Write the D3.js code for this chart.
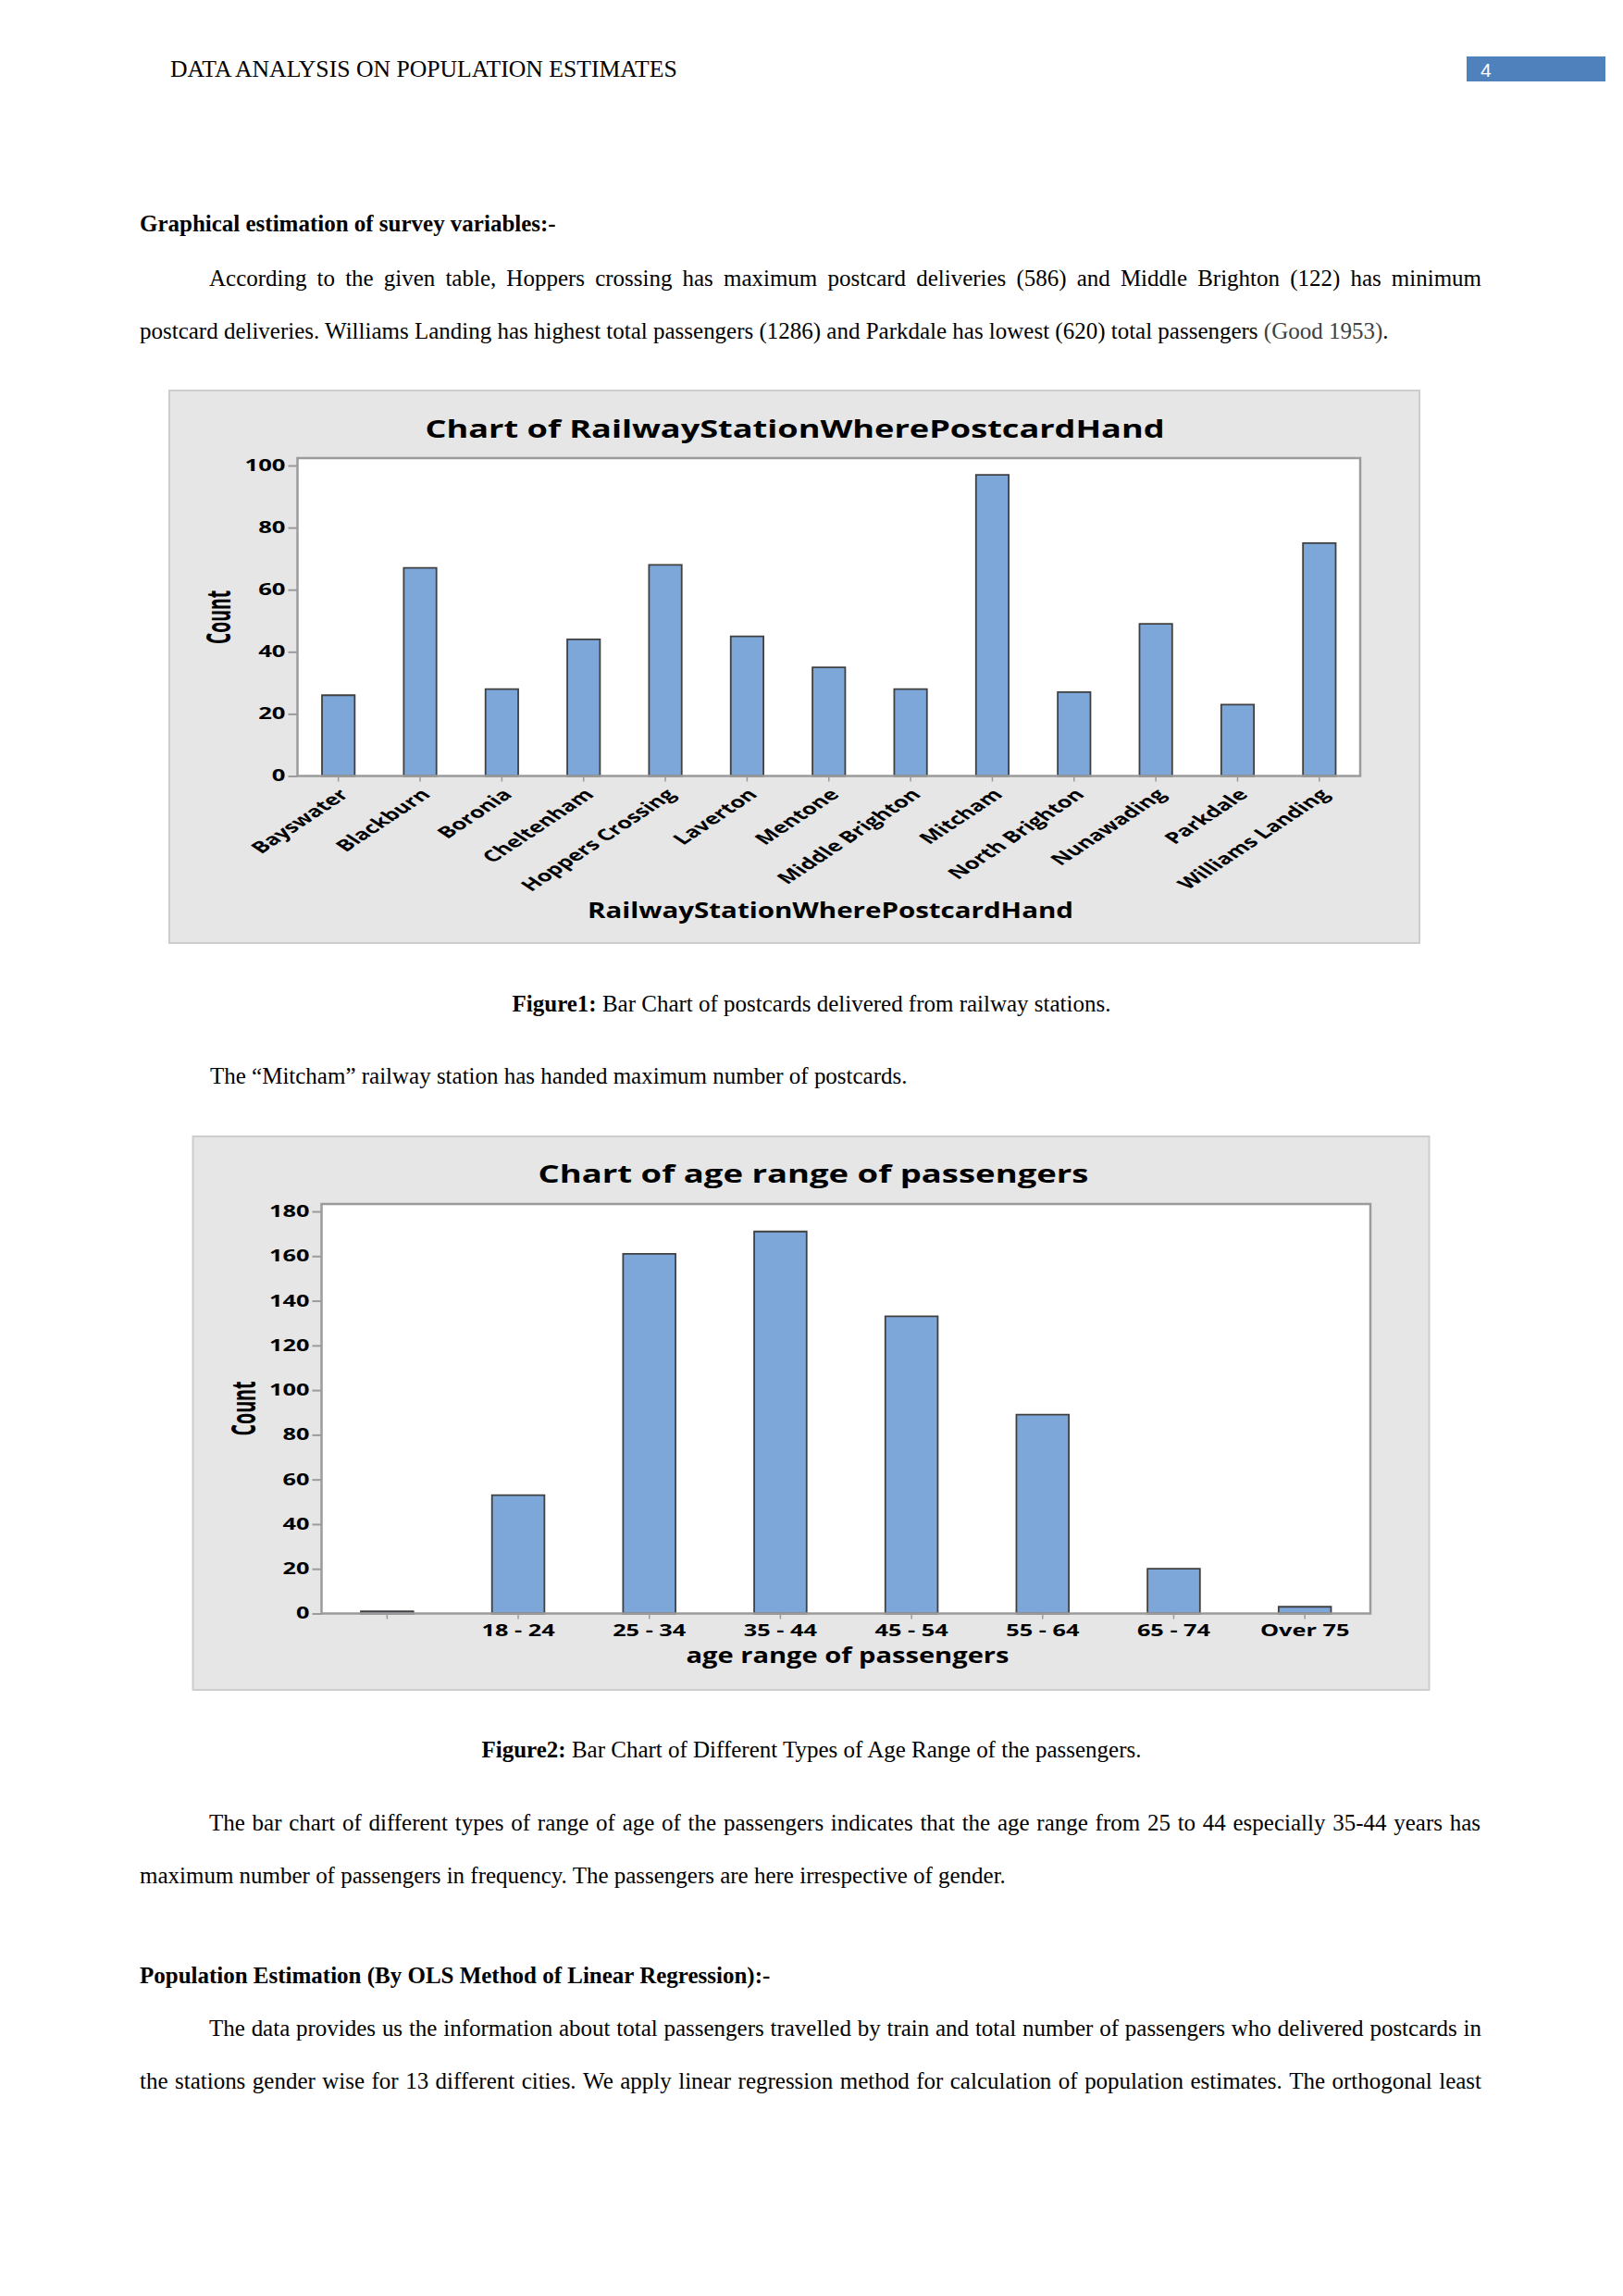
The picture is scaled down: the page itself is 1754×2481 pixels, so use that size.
<!DOCTYPE html>
<html><head><meta charset="utf-8">
<script src="https://cdn.jsdelivr.net/npm/d3@7"></script>
<style>body{margin:0;background:#fff} svg{display:block}</style>
</head><body>
<svg id="page" width="1754" height="2481"></svg>
<script>
// ---------- data ----------
const stations = ["Bayswater","Blackburn","Boronia","Cheltenham","Hoppers Crossing","Laverton","Mentone","Middle Brighton","Mitcham","North Brighton","Nunawading","Parkdale","Williams Landing"];
const stationCounts = [26,67,28,44,68,45,35,28,97,27,49,23,75];
const stationTicks = [0,20,40,60,80,100];
const ageRanges = ["","18 - 24","25 - 34","35 - 44","45 - 54","55 - 64","65 - 74","Over 75"];
const ageCounts = [1,53,161,171,133,89,20,3];
const ageTicks = [0,20,40,60,80,100,120,140,160,180];

// ---------- page ----------
const svg = d3.select("#page");
svg.append("rect").attr("width",1754).attr("height",2481).attr("fill","#fff");
const serif = "'Liberation Serif','Times New Roman',serif";
const sans = "'Open Sans','DejaVu Sans',sans-serif";

function measure(str, fs, bold) {
  const t = svg.append("text").attr("font-family",serif).attr("font-size",fs)
    .attr("font-weight",bold?700:400).text(str);
  const w = t.node().getComputedTextLength(); t.remove(); return w;
}
const calib = "postcard deliveries. Williams Landing has highest total passengers (1286) and Parkdale has lowest (620) total passengers (Good 1953).";
const FS = 24 * 1350 / measure(calib, 24, false);
const headerText = "DATA ANALYSIS ON POPULATION ESTIMATES";
const HFS = 24 * 548 / measure(headerText, 24, false);

function textLine(x, y, segs, opt = {}) {
  const fs = opt.fs || FS;
  const t = svg.append("text").attr("font-family",serif).attr("font-size",fs).attr("y",y).attr("fill","#000");
  if (opt.justify) {
    const words = [];
    segs.forEach(([s,b,c]) => s.split(" ").filter(w => w).forEach(w => words.push({w,b,c})));
    const widths = words.map(d => measure(d.w, fs, d.b));
    const gap = (opt.justify - x - d3.sum(widths)) / (words.length - 1);
    let cx = x;
    words.forEach((d,i) => {
      t.append("tspan").attr("x",cx).attr("font-weight",d.b?700:400).attr("fill",d.c||"#000").text(d.w);
      cx += widths[i] + gap;
    });
  } else {
    t.attr("x",x).attr("text-anchor",opt.anchor||"start");
    segs.forEach(([s,b,c]) => t.append("tspan").attr("font-weight",b?700:400).attr("fill",c||"#000").text(s));
  }
}

// header
textLine(184, 83, [[headerText]], {fs:HFS});
svg.append("rect").attr("x",1585).attr("y",61).attr("width",150).attr("height",27).attr("fill","#4f81bd");
svg.append("text").attr("x",1600).attr("y",83).attr("font-family","'Liberation Sans',Arial,sans-serif")
  .attr("font-size",21).attr("fill","#fff").text("4");

textLine(151, 250, [["Graphical estimation of survey variables:-", true]]);
textLine(226, 309, [["According to the given table, Hoppers crossing has maximum postcard deliveries (586) and Middle Brighton (122) has minimum"]], {justify:1601});
textLine(151, 366, [["postcard deliveries. Williams Landing has highest total passengers (1286) and Parkdale has lowest (620) total passengers "],["(Good 1953)",false,"#404040"],["."]]);
textLine(877, 1093, [["Figure1:",true],[" Bar Chart of postcards delivered from railway stations."]], {anchor:"middle"});
textLine(227, 1171, [["The \u201cMitcham\u201d railway station has handed maximum number of postcards."]]);
textLine(877, 1899, [["Figure2:",true],[" Bar Chart of Different Types of Age Range of the passengers."]], {anchor:"middle"});
textLine(226, 1978, [["The bar chart of different types of range of age of the passengers indicates that the age range from 25 to 44 especially 35-44 years has"]], {justify:1600});
textLine(151, 2035, [["maximum number of passengers in frequency. The passengers are here irrespective of gender."]]);
textLine(151, 2143, [["Population Estimation (By OLS Method of Linear Regression):-", true]]);
textLine(226, 2200, [["The data provides us the information about total passengers travelled by train and total number of passengers who delivered postcards in"]], {justify:1601});
textLine(151, 2257, [["the stations gender wise for 13 different cities. We apply linear regression method for calculation of population estimates. The orthogonal least"]], {justify:1601});

// ---------- charts ----------
function chart(c) {
  const k = c.k;
  const lx = p => (p - c.box.x) / k, ly = p => p - c.box.y;
  const g = svg.append("g").attr("transform",`translate(${c.box.x},${c.box.y}) scale(${k},1)`);
  g.append("rect").attr("x",0).attr("y",0).attr("width",c.box.w/k).attr("height",c.box.h)
    .attr("fill","#e6e6e6").attr("stroke","#cdcdcd").attr("stroke-width",2).attr("vector-effect","non-scaling-stroke");
  const L = lx(c.plot.x0), R = lx(c.plot.x1), T = ly(c.plot.y0);
  const y = d3.scaleLinear().domain([0, c.yRef]).range([ly(c.zeroPx), ly(c.refPx)]);
  const B = y(0);
  g.append("rect").attr("x",L).attr("y",T).attr("width",R-L).attr("height",B-T).attr("fill","#fff");
  const x = d3.scaleBand().domain(c.cats).range([L,R]).paddingInner(0.6).paddingOuter(0.3);
  g.selectAll("rect.bar").data(c.values).join("rect").attr("class","bar")
    .attr("x",(d,i) => x(c.cats[i])).attr("width",x.bandwidth())
    .attr("y",d => y(d)).attr("height",d => B - y(d))
    .attr("fill","#7da7d9").attr("stroke","#404040").attr("stroke-width",1.8).attr("vector-effect","non-scaling-stroke");
  g.append("rect").attr("x",L).attr("y",T).attr("width",R-L).attr("height",B-T).attr("fill","none")
    .attr("stroke","#9b9b9b").attr("stroke-width",2.5).attr("vector-effect","non-scaling-stroke");
  // y axis
  const ya = g.append("g").attr("transform",`translate(${L},0)`)
    .call(d3.axisLeft(y).tickValues(c.ticks).tickSize(10/k).tickPadding(3/k));
  ya.select(".domain").remove();
  ya.selectAll("line").attr("stroke","#9b9b9b").attr("stroke-width",2).attr("vector-effect","non-scaling-stroke");
  ya.selectAll("text").attr("font-family",sans).attr("font-size",17).attr("font-weight",700).attr("fill","#000");
  // x axis
  const xa = g.append("g").attr("transform",`translate(0,${B})`)
    .call(d3.axisBottom(x).tickSize(6).tickPadding(6));
  xa.select(".domain").remove();
  xa.selectAll("line").attr("stroke","#9b9b9b").attr("stroke-width",1.5).attr("vector-effect","non-scaling-stroke");
  xa.selectAll("text").attr("font-family",sans).attr("font-size",17).attr("font-weight",700).attr("fill","#000");
  if (c.rotate) {
    xa.selectAll("text").attr("text-anchor","end").attr("x",0).attr("y",0).attr("dy","0.35em")
      .attr("transform","translate(4,17) rotate(-45)");
  }
  // titles
  g.append("text").attr("x",lx(c.title.cx)).attr("y",ly(c.title.base)).attr("text-anchor","middle")
    .attr("font-family",sans).attr("font-size",27).attr("font-weight",700)
    .attr("textLength",c.title.w/k).attr("lengthAdjust","spacingAndGlyphs").text(c.title.text);
  g.append("text").attr("x",lx(c.xt.cx)).attr("y",ly(c.xt.base)).attr("text-anchor","middle")
    .attr("font-family",sans).attr("font-size",24).attr("font-weight",700)
    .attr("textLength",c.xt.w/k).attr("lengthAdjust","spacingAndGlyphs").text(c.xt.text);
  g.append("text").attr("transform",`translate(${lx(c.yt.cx)+8.5},${ly(c.yt.cy)}) rotate(-90)`)
    .attr("text-anchor","middle").attr("font-family",sans).attr("font-size",24).attr("font-weight",700)
    .attr("textLength",c.yt.len).attr("lengthAdjust","spacingAndGlyphs").text("Count");
}

chart({
  box:{x:183,y:422,w:1351,h:597}, k:1.509,
  plot:{x0:321.5,x1:1470,y0:495}, zeroPx:838.5, refPx:503, yRef:100,
  cats:stations, values:stationCounts, ticks:stationTicks, rotate:true,
  title:{text:"Chart of RailwayStationWherePostcardHand", cx:859, base:473, w:799},
  xt:{text:"RailwayStationWherePostcardHand", cx:897.5, base:992, w:525},
  yt:{cx:236.5, cy:667, len:58}
});
chart({
  box:{x:208.5,y:1228,w:1336,h:598}, k:1.489,
  plot:{x0:347.5,x1:1481,y0:1301}, zeroPx:1743.5, refPx:1309, yRef:180,
  cats:ageRanges, values:ageCounts, ticks:ageTicks, rotate:false,
  title:{text:"Chart of age range of passengers", cx:879, base:1278, w:595},
  xt:{text:"age range of passengers", cx:916, base:1797, w:349},
  yt:{cx:263, cy:1522, len:59}
});
</script>
</body></html>
